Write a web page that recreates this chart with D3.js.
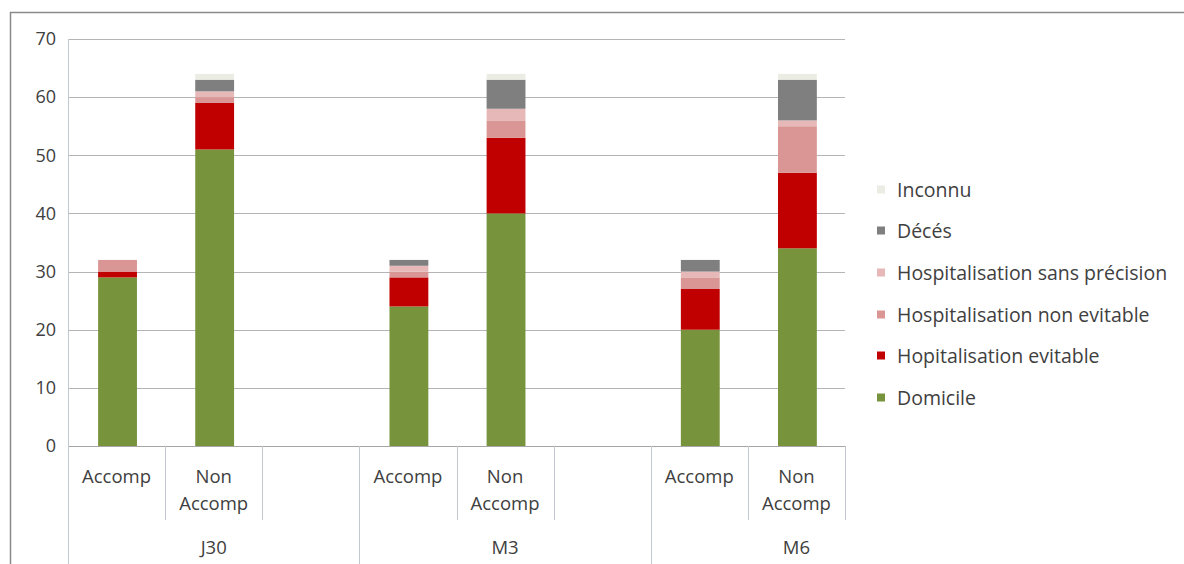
<!DOCTYPE html>
<html><head><meta charset="utf-8">
<script src="https://cdn.jsdelivr.net/npm/d3@7"></script>
<style>
html,body{margin:0;padding:0;background:#fff;}
svg{display:block;}
text{font-family:"Open Sans",Lato,sans-serif;fill:#404040;}
</style></head>
<body>
<svg id="c" width="1184" height="564"></svg>
<script>
// ---- data ----
const groups = ["J30", "M3", "M6"];
const subgroups = ["Accomp", "Non Accomp"];
const seriesNames = ["Domicile", "Hopitalisation evitable", "Hospitalisation non evitable", "Hospitalisation sans précision", "Décés", "Inconnu"];
const domicile      = [29, 51, 24, 40, 20, 34];
const evitable      = [1, 8, 5, 13, 7, 13];
const nonEvitable   = [2, 1, 1, 3, 2, 8];
const sansPrecision = [0, 1, 1, 2, 1, 1];
const deces         = [0, 2, 1, 5, 2, 7];
const inconnu       = [0, 1, 0, 1, 0, 1];
const yTicks = [0, 10, 20, 30, 40, 50, 60, 70];
const colors = ["#77933c", "#c00000", "#d99694", "#e6b9b8", "#7f7f7f", "#ebece3"];

const seriesValues = [domicile, evitable, nonEvitable, sansPrecision, deces, inconnu];

(function () {
const FS = 19.5;
const slots = [];
groups.forEach((g, gi) => {
  subgroups.forEach(s => slots.push({key: g + "|" + s, group: g, sub: s}));
  if (gi < groups.length - 1) slots.push({key: g + "|gap", group: g, sub: null});
});
const rows = [];
groups.forEach((g, gi) => subgroups.forEach((s, si) => {
  const i = gi * subgroups.length + si;
  const r = {key: g + "|" + s};
  seriesNames.forEach((n, k) => r[n] = seriesValues[k][i]);
  rows.push(r);
}));

const svg = d3.select("#c");
const pL = 68, pR = 845, pT = 39, pB = 446;

const x = d3.scaleBand().domain(slots.map(d => d.key)).range([pL, pR]).paddingInner(0).paddingOuter(0);
const y = d3.scaleLinear().domain([0, 70]).range([pB, pT]);
const bw = x.bandwidth();

svg.append("rect").attr("x", 10.5).attr("y", 12.5).attr("width", 1300).attr("height", 700)
  .attr("fill", "none").attr("stroke", "#8a8a8a").attr("stroke-width", 1.5);

svg.append("g").selectAll("line").data(yTicks).join("line")
  .attr("x1", pL).attr("x2", pR)
  .attr("y1", d => Math.round(y(d)) + 0.5).attr("y2", d => Math.round(y(d)) + 0.5)
  .attr("stroke", d => d === 0 ? "#a6a6a6" : "#b4b4b4").attr("stroke-width", 1.2);

const yAxis = d3.axisLeft(y).tickValues(yTicks).tickSize(0).tickPadding(0);
const ya = svg.append("g").attr("transform", `translate(${pL - 12},0)`).call(yAxis);
ya.select(".domain").remove();
ya.selectAll("text").attr("font-size", 18).attr("font-family", "'Open Sans', sans-serif").attr("fill", "#404040");

const stacked = d3.stack().keys(seriesNames)(rows);
svg.append("g").selectAll("g").data(stacked).join("g")
  .attr("fill", (d, i) => colors[i])
  .selectAll("rect").data(d => d).join("rect")
  .attr("x", d => x(d.data.key) + bw * 0.31)
  .attr("width", bw * 0.40)
  .attr("y", d => y(d[1]))
  .attr("height", d => y(d[0]) - y(d[1]));

const axisCol = "#c3c7cf";
const ax = svg.append("g");
ax.append("line").attr("x1", pL + 0.5).attr("x2", pL + 0.5).attr("y1", pT).attr("y2", 564).attr("stroke", axisCol);
slots.forEach((s, i) => {
  const xr = x(s.key) + bw;
  const isGroupEnd = (i === slots.length - 1) ? false : (slots[i + 1].group !== s.group);
  ax.append("line").attr("x1", Math.round(xr) + 0.5).attr("x2", Math.round(xr) + 0.5)
    .attr("y1", pB).attr("y2", isGroupEnd ? 564 : 520).attr("stroke", axisCol);
});

slots.filter(s => s.sub).forEach(s => {
  const cx = x(s.key) + bw / 2;
  const words = s.sub.split(" ");
  const t = svg.append("text").attr("x", cx).attr("text-anchor", "middle").attr("font-size", FS - 1);
  words.forEach((w, wi) => t.append("tspan").attr("x", cx).attr("y", 483 + wi * 27).text(w));
});

groups.forEach(g => {
  const first = slots.find(s => s.group === g);
  const cx = x(first.key) + bw * 1.5;
  svg.append("text").attr("x", cx).attr("y", 554).attr("text-anchor", "middle").attr("font-size", FS - 1).text(g);
});

const legY = [190, 231, 273, 315, 356, 398];
const legendOrder = seriesNames.map((n, i) => i).reverse();
const lg = svg.append("g");
legendOrder.forEach((si, k) => {
  lg.append("rect").attr("x", 877).attr("y", legY[k] - 4.5).attr("width", 8).attr("height", 8).attr("fill", colors[si]);
  lg.append("text").attr("x", 897).attr("y", legY[k] + 6.5).attr("font-size", FS).text(seriesNames[si]);
});
})();
</script>
</body></html>
